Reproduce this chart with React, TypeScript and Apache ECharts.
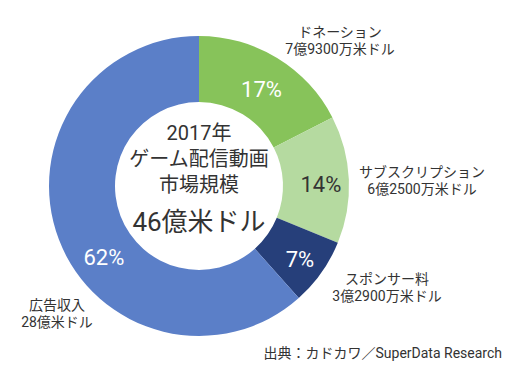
import React, { useEffect, useRef } from "react";
import * as echarts from "echarts";

const categories = ["ドネーション", "サブスクリプション", "スポンサー料", "広告収入"];
const amountLabels = ["7億9300万米ドル", "6億2500万米ドル", "3億2900万米ドル", "28億米ドル"];
const values = [7.93, 6.25, 3.29, 28];
const percentLabels = ["17%", "14%", "7%", "62%"];
const colors = ["#87C35A", "#B5DAA0", "#263F7A", "#5B7FC8"];
const percentColors = ["#ffffff", "#333333", "#ffffff", "#ffffff"];
const centerLines = ["2017年", "ゲーム配信動画", "市場規模"];
const centerTotal = "46億米ドル";
const sourceText = "出典：カドカワ／SuperData Research";

const FONT = "Roboto, 'Noto Sans CJK JP', sans-serif";
const outerLabelPos = [
  [340, 40],
  [422, 180],
  [387, 287],
  [57, 313],
];

export default function App() {
  const ref = useRef<HTMLDivElement>(null);
  useEffect(() => {
    if (!ref.current) return;
    const chart = echarts.init(ref.current, undefined, { renderer: "svg" });
    const shifts: number[][] = [
      [0, 6],
      [2, 4],
      [3, 4],
      [17, 29],
    ];
    chart.setOption({
      animation: false,
      backgroundColor: "#ffffff",
      series: [
        {
          type: "pie",
          center: [199, 186],
          radius: [84, 150],
          startAngle: 90,
          clockwise: true,
          silent: true,
          labelLine: { show: false },
          labelLayout: (p: any) => ({ dx: shifts[p.dataIndex][0], dy: shifts[p.dataIndex][1] }),
          data: values.map((v, i) => ({
            value: v,
            name: categories[i],
            itemStyle: { color: colors[i] },
            label: {
              show: true,
              position: "inside",
              formatter: percentLabels[i],
              color: percentColors[i],
              fontSize: 22,
              fontFamily: FONT,
            },
          })),
        },
      ],
      graphic: [
        ...categories.map((c, i) => ({
          type: "text",
          x: outerLabelPos[i][0],
          y: outerLabelPos[i][1],
          style: {
            text: c + "\n" + amountLabels[i],
            fill: "#333333",
            font: `14px ${FONT}`,
            lineHeight: 17,
            align: "center",
            verticalAlign: "middle",
          },
        })),
        ...centerLines.map((t, i) => ({
          type: "text",
          x: 199,
          y: 133 + i * 26,
          style: {
            text: t,
            fill: "#333333",
            font: `20px ${FONT}`,
            align: "center",
            verticalAlign: "middle",
          },
        })),
        {
          type: "text",
          x: 199,
          y: 222,
          style: {
            text: centerTotal,
            fill: "#333333",
            font: `26px ${FONT}`,
            align: "center",
            verticalAlign: "middle",
          },
        },
        {
          type: "text",
          x: 502,
          y: 353,
          style: {
            text: sourceText,
            fill: "#333333",
            font: `14px ${FONT}`,
            align: "right",
            verticalAlign: "middle",
          },
        },
      ],
    });
    return () => chart.dispose();
  }, []);
  return <div ref={ref} style={{ width: 512, height: 377, position: "absolute", left: 0, top: 0 }} />;
}
